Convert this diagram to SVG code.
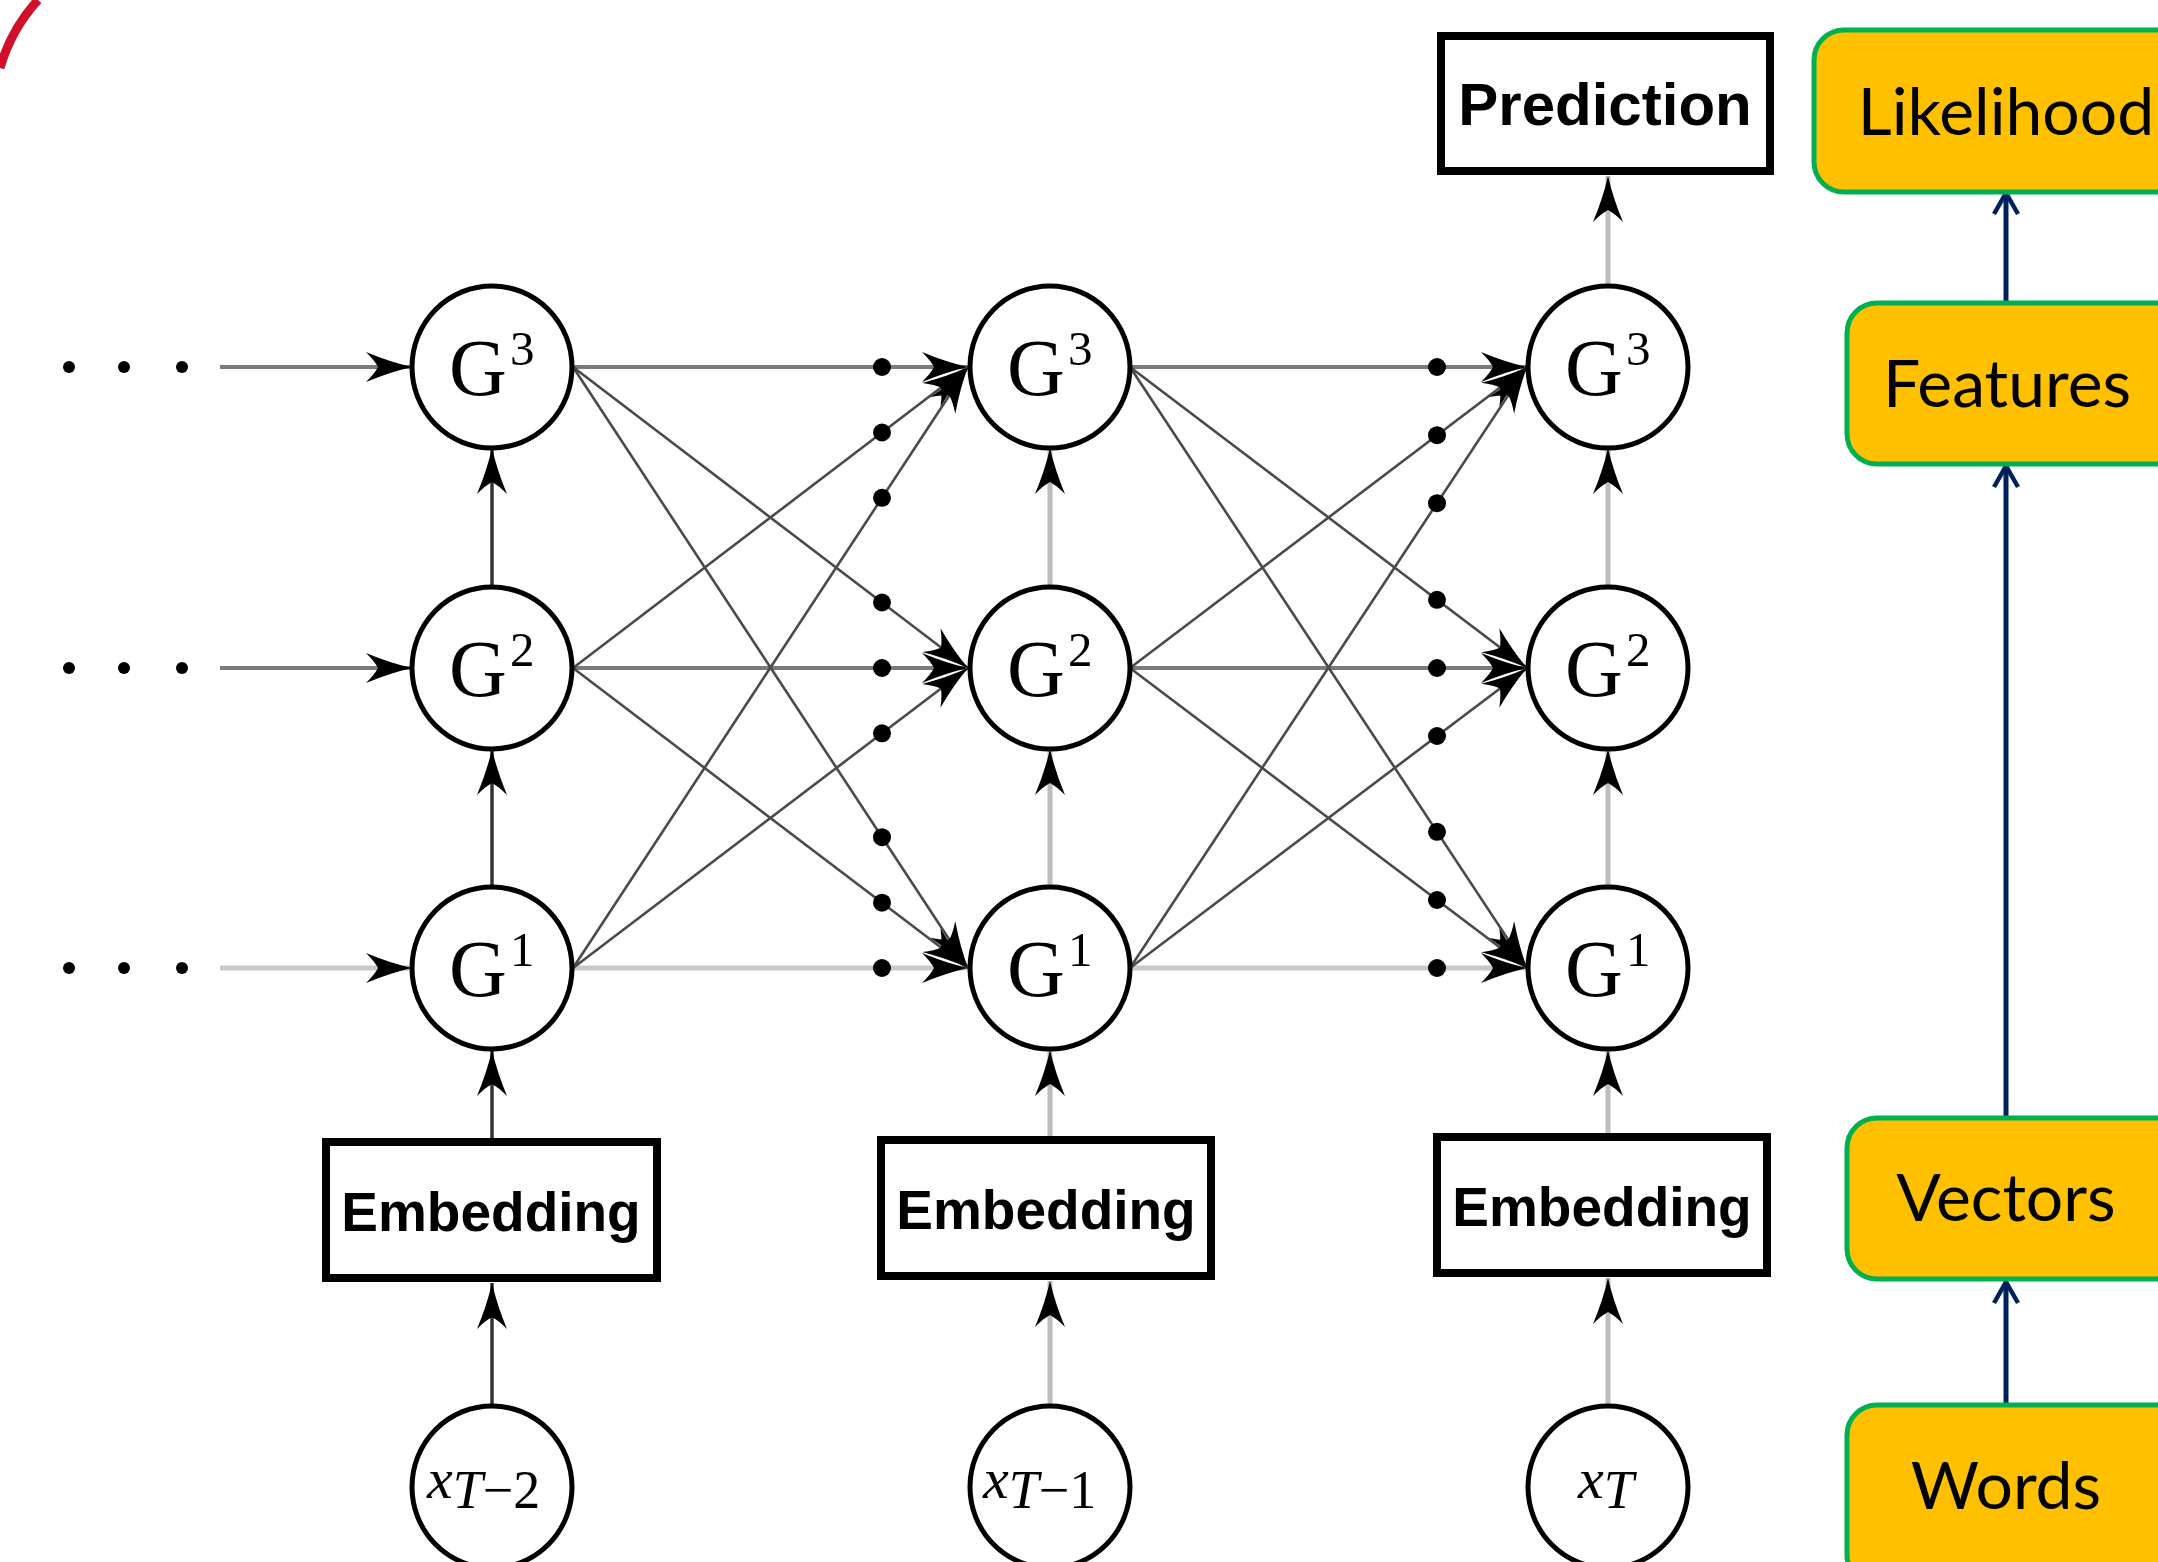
<svg xmlns="http://www.w3.org/2000/svg" width="2158" height="1562" viewBox="0 0 2158 1562">
<style>
.node{fill:#fff;stroke:#000;stroke-width:5}
.box{fill:#fff;stroke:#000;stroke-width:8}
.ybox{fill:#ffc000;stroke:#00b050;stroke-width:5}
.g{font-family:"Liberation Serif","DejaVu Serif",serif;fill:#000}
.bt{font-family:"Liberation Sans",Arial,sans-serif;font-weight:bold;fill:#000;text-anchor:middle}
.yt{font-family:Lato,"Noto Sans",sans-serif;font-size:66px;fill:#000;text-anchor:middle}
.dot{fill:#000}
.hd{stroke:#7a7a7a;stroke-width:4;fill:none}
.hl{stroke:#c8c8c8;stroke-width:5;fill:none}
.dg{stroke:#4a4a4a;stroke-width:2.6;fill:none}
.vd{stroke:#333;stroke-width:3.5;fill:none}
.vl{stroke:#bdbdbd;stroke-width:5;fill:none}
.nv{stroke:#002060;stroke-width:5;fill:none}
</style>
<defs>
<marker id="ah" viewBox="-50 -18 52 36" refX="0" refY="0" markerWidth="52" markerHeight="36" markerUnits="userSpaceOnUse" orient="auto">
<path d="M0,0 Q-22,-5 -46,-15 Q-37,-6 -34,0 Q-37,6 -46,15 Q-22,5 0,0 Z" fill="#000"/>
</marker>
<marker id="nva" viewBox="-26 -15 30 30" refX="0" refY="0" markerWidth="30" markerHeight="30" markerUnits="userSpaceOnUse" orient="auto">
<path d="M-21,-12 L0,0 L-21,12" fill="none" stroke="#002060" stroke-width="4.5"/>
</marker>
</defs>
<rect width="2158" height="1562" fill="#fff"/>
<path d="M0,68 A170,170 0 0 1 38,0" fill="none" stroke="#d0102a" stroke-width="9"/>

<g id="connectors">
<line class="hd" x1="220" y1="367" x2="412" y2="367" marker-end="url(#ah)"/>
<line class="hd" x1="220" y1="668" x2="412" y2="668" marker-end="url(#ah)"/>
<line class="hl" x1="220" y1="968" x2="412" y2="968" marker-end="url(#ah)"/>
<line class="hd" x1="573" y1="367" x2="968" y2="367" marker-end="url(#ah)"/>
<line class="hd" x1="573" y1="668" x2="968" y2="668" marker-end="url(#ah)"/>
<line class="hl" x1="573" y1="968" x2="968" y2="968" marker-end="url(#ah)"/>
<line class="dg" x1="573" y1="367" x2="968" y2="668" marker-end="url(#ah)"/>
<line class="dg" x1="573" y1="367" x2="968" y2="968" marker-end="url(#ah)"/>
<line class="dg" x1="573" y1="668" x2="968" y2="367" marker-end="url(#ah)"/>
<line class="dg" x1="573" y1="668" x2="968" y2="968" marker-end="url(#ah)"/>
<line class="dg" x1="573" y1="968" x2="968" y2="367" marker-end="url(#ah)"/>
<line class="dg" x1="573" y1="968" x2="968" y2="668" marker-end="url(#ah)"/>
<line class="hd" x1="1130" y1="367" x2="1527" y2="367" marker-end="url(#ah)"/>
<line class="hd" x1="1130" y1="668" x2="1527" y2="668" marker-end="url(#ah)"/>
<line class="hl" x1="1130" y1="968" x2="1527" y2="968" marker-end="url(#ah)"/>
<line class="dg" x1="1130" y1="367" x2="1527" y2="668" marker-end="url(#ah)"/>
<line class="dg" x1="1130" y1="367" x2="1527" y2="968" marker-end="url(#ah)"/>
<line class="dg" x1="1130" y1="668" x2="1527" y2="367" marker-end="url(#ah)"/>
<line class="dg" x1="1130" y1="668" x2="1527" y2="968" marker-end="url(#ah)"/>
<line class="dg" x1="1130" y1="968" x2="1527" y2="367" marker-end="url(#ah)"/>
<line class="dg" x1="1130" y1="968" x2="1527" y2="668" marker-end="url(#ah)"/>
<line class="vd" x1="492" y1="1406" x2="492" y2="1283" marker-end="url(#ah)"/>
<line class="vd" x1="492" y1="1138" x2="492" y2="1050" marker-end="url(#ah)"/>
<line class="vd" x1="492" y1="887" x2="492" y2="749" marker-end="url(#ah)"/>
<line class="vd" x1="492" y1="587" x2="492" y2="448" marker-end="url(#ah)"/>
<line class="vl" x1="1050" y1="1406" x2="1050" y2="1281" marker-end="url(#ah)"/>
<line class="vl" x1="1050" y1="1136" x2="1050" y2="1050" marker-end="url(#ah)"/>
<line class="vl" x1="1050" y1="887" x2="1050" y2="749" marker-end="url(#ah)"/>
<line class="vl" x1="1050" y1="587" x2="1050" y2="448" marker-end="url(#ah)"/>
<line class="vl" x1="1608" y1="1406" x2="1608" y2="1278" marker-end="url(#ah)"/>
<line class="vl" x1="1608" y1="1133" x2="1608" y2="1050" marker-end="url(#ah)"/>
<line class="vl" x1="1608" y1="887" x2="1608" y2="749" marker-end="url(#ah)"/>
<line class="vl" x1="1608" y1="587" x2="1608" y2="448" marker-end="url(#ah)"/>
<line class="vl" x1="1608" y1="286" x2="1608" y2="176" marker-end="url(#ah)"/>
<line class="nv" x1="2006" y1="1405" x2="2006" y2="1282" marker-end="url(#nva)"/>
<line class="nv" x1="2006" y1="1118" x2="2006" y2="466" marker-end="url(#nva)"/>
<line class="nv" x1="2006" y1="303" x2="2006" y2="193" marker-end="url(#nva)"/>
<circle class="dot" cx="69" cy="367" r="6"/><circle class="dot" cx="124" cy="367" r="6"/><circle class="dot" cx="182" cy="367" r="6"/>
<circle class="dot" cx="69" cy="668" r="6"/><circle class="dot" cx="124" cy="668" r="6"/><circle class="dot" cx="182" cy="668" r="6"/>
<circle class="dot" cx="69" cy="968" r="6"/><circle class="dot" cx="124" cy="968" r="6"/><circle class="dot" cx="182" cy="968" r="6"/>
<circle class="dot" cx="882" cy="367" r="9"/><circle class="dot" cx="882" cy="432.5" r="9"/><circle class="dot" cx="882" cy="497.8" r="9"/>
<circle class="dot" cx="882" cy="602.5" r="9"/><circle class="dot" cx="882" cy="668" r="9"/><circle class="dot" cx="882" cy="733.3" r="9"/>
<circle class="dot" cx="882" cy="837.2" r="9"/><circle class="dot" cx="882" cy="902.7" r="9"/><circle class="dot" cx="882" cy="968" r="9"/>
<circle class="dot" cx="1437" cy="367" r="9"/><circle class="dot" cx="1437" cy="435.2" r="9"/><circle class="dot" cx="1437" cy="503.2" r="9"/>
<circle class="dot" cx="1437" cy="599.8" r="9"/><circle class="dot" cx="1437" cy="668" r="9"/><circle class="dot" cx="1437" cy="736" r="9"/>
<circle class="dot" cx="1437" cy="831.8" r="9"/><circle class="dot" cx="1437" cy="900" r="9"/><circle class="dot" cx="1437" cy="968" r="9"/>
</g>

<g id="g3a"><ellipse class="node" cx="492" cy="367" rx="80" ry="81"/><text class="g" x="449" y="395" font-size="80">G</text><text class="g" x="510" y="365" font-size="49">3</text></g>
<g id="g2a"><ellipse class="node" cx="492" cy="668" rx="80" ry="81"/><text class="g" x="449" y="696" font-size="80">G</text><text class="g" x="510" y="666" font-size="49">2</text></g>
<g id="g1a"><ellipse class="node" cx="492" cy="968" rx="80" ry="81"/><text class="g" x="449" y="996" font-size="80">G</text><text class="g" x="510" y="966" font-size="49">1</text></g>
<g id="g3b"><ellipse class="node" cx="1050" cy="367" rx="80" ry="81"/><text class="g" x="1007" y="395" font-size="80">G</text><text class="g" x="1068" y="365" font-size="49">3</text></g>
<g id="g2b"><ellipse class="node" cx="1050" cy="668" rx="80" ry="81"/><text class="g" x="1007" y="696" font-size="80">G</text><text class="g" x="1068" y="666" font-size="49">2</text></g>
<g id="g1b"><ellipse class="node" cx="1050" cy="968" rx="80" ry="81"/><text class="g" x="1007" y="996" font-size="80">G</text><text class="g" x="1068" y="966" font-size="49">1</text></g>
<g id="g3c"><ellipse class="node" cx="1608" cy="367" rx="80" ry="81"/><text class="g" x="1565" y="395" font-size="80">G</text><text class="g" x="1626" y="365" font-size="49">3</text></g>
<g id="g2c"><ellipse class="node" cx="1608" cy="668" rx="80" ry="81"/><text class="g" x="1565" y="696" font-size="80">G</text><text class="g" x="1626" y="666" font-size="49">2</text></g>
<g id="g1c"><ellipse class="node" cx="1608" cy="968" rx="80" ry="81"/><text class="g" x="1565" y="996" font-size="80">G</text><text class="g" x="1626" y="966" font-size="49">1</text></g>

<g id="emb1"><rect class="box" x="326" y="1142" width="331" height="136"/><text class="bt" x="491" y="1231" font-size="55">Embedding</text></g>
<g id="emb2"><rect class="box" x="881" y="1140" width="330" height="136"/><text class="bt" x="1046" y="1229" font-size="55">Embedding</text></g>
<g id="emb3"><rect class="box" x="1437" y="1137" width="330" height="136"/><text class="bt" x="1602" y="1226" font-size="55">Embedding</text></g>
<g id="pred"><rect class="box" x="1441" y="36" width="329" height="135"/><text class="bt" x="1605" y="125" font-size="60">Prediction</text></g>

<g id="x1"><ellipse class="node" cx="492" cy="1487" rx="80" ry="81"/><text class="g" x="427" y="1498" font-size="58"><tspan font-style="italic">x</tspan><tspan dy="10" font-size="54" font-style="italic">T</tspan><tspan font-size="54">−2</tspan></text></g>
<g id="x2"><ellipse class="node" cx="1050" cy="1487" rx="80" ry="81"/><text class="g" x="983" y="1498" font-size="58"><tspan font-style="italic">x</tspan><tspan dy="10" font-size="54" font-style="italic">T</tspan><tspan font-size="54">−1</tspan></text></g>
<g id="x3"><ellipse class="node" cx="1608" cy="1487" rx="80" ry="81"/><text class="g" x="1578" y="1498" font-size="58"><tspan font-style="italic">x</tspan><tspan dy="10" font-size="54" font-style="italic">T</tspan></text></g>

<g id="likelihood"><rect class="ybox" x="1814" y="30" width="400" height="162" rx="30"/><text class="yt" x="2006" y="135">Likelihood</text></g>
<g id="features"><rect class="ybox" x="1847" y="303" width="340" height="161" rx="30"/><text class="yt" x="2007" y="407">Features</text></g>
<g id="vectors"><rect class="ybox" x="1847" y="1118" width="340" height="161" rx="30"/><text class="yt" x="2006" y="1221">Vectors</text></g>
<g id="words"><rect class="ybox" x="1847" y="1405" width="340" height="180" rx="30"/><text class="yt" x="2006" y="1509">Words</text></g>
</svg>
